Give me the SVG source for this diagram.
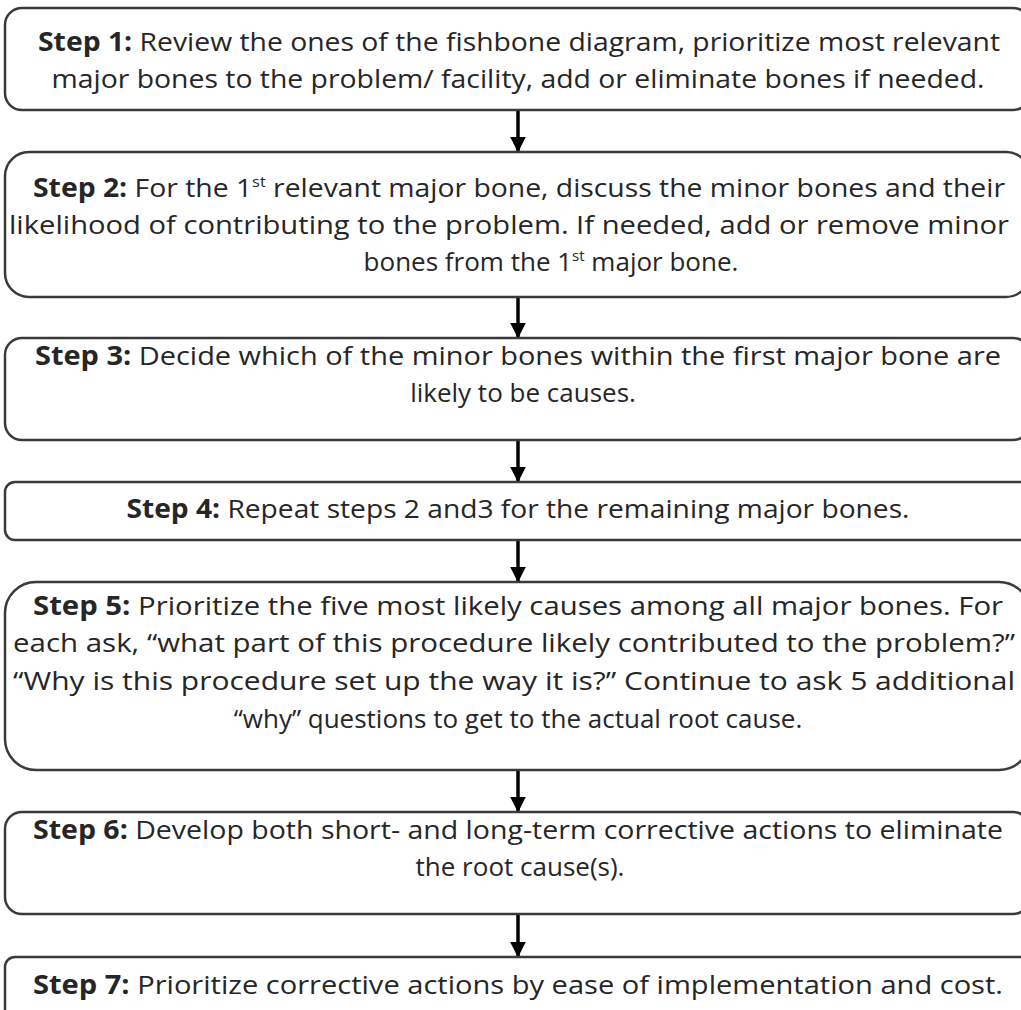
<svg xmlns="http://www.w3.org/2000/svg" width="1021" height="1010" viewBox="0 0 1021 1010">
<style>
.box{fill:#ffffff;stroke:#3a3a3a;stroke-width:2.5}
.t{font-family:"Open Sans","Noto Sans",sans-serif;font-size:26px;fill:#262626;text-anchor:middle}
.b{font-weight:bold}
.s{font-size:15px}
.arr{stroke:#000;stroke-width:3.5;fill:none}
</style>
<defs>
<marker id="ah" viewBox="0 0 10 10" refX="9" refY="5" markerWidth="4.5" markerHeight="4.5" orient="auto" markerUnits="strokeWidth">
<path d="M0,0 L10,5 L0,10 z" fill="#000"/>
</marker>
</defs>
<rect width="1021" height="1010" fill="#ffffff"/>
<g id="connectors">
<line class="arr" x1="518" y1="110" x2="518" y2="151" marker-end="url(#ah)"/>
<line class="arr" x1="518" y1="297" x2="518" y2="337" marker-end="url(#ah)"/>
<line class="arr" x1="518" y1="440" x2="518" y2="481" marker-end="url(#ah)"/>
<line class="arr" x1="518" y1="540" x2="518" y2="581" marker-end="url(#ah)"/>
<line class="arr" x1="518" y1="770" x2="518" y2="811" marker-end="url(#ah)"/>
<line class="arr" x1="518" y1="914" x2="518" y2="956" marker-end="url(#ah)"/>
</g>
<g id="step1">
<rect class="box" x="5" y="8" width="1025" height="102" rx="17"/>
<text class="t" x="519" y="51" textLength="962" lengthAdjust="spacingAndGlyphs"><tspan class="b">Step 1:</tspan> Review the ones of the fishbone diagram, prioritize most relevant</text>
<text class="t" x="518" y="88" textLength="933" lengthAdjust="spacingAndGlyphs">major bones to the problem/ facility, add or eliminate bones if needed.</text>
</g>
<g id="step2">
<rect class="box" x="5" y="152" width="1025" height="145" rx="24"/>
<text class="t" x="519" y="197" textLength="972" lengthAdjust="spacingAndGlyphs"><tspan class="b">Step 2:</tspan> For the 1<tspan class="s" baseline-shift="super">st</tspan> relevant major bone, discuss the minor bones and their</text>
<text class="t" x="509" y="234" textLength="1000" lengthAdjust="spacingAndGlyphs">likelihood of contributing to the problem. If needed, add or remove minor</text>
<text class="t" x="551" y="271">bones from the 1<tspan class="s" baseline-shift="super">st</tspan> major bone.</text>
</g>
<g id="step3">
<rect class="box" x="5" y="338" width="1025" height="102" rx="17"/>
<text class="t" x="518" y="365" textLength="966" lengthAdjust="spacingAndGlyphs"><tspan class="b">Step 3:</tspan> Decide which of the minor bones within the first major bone are</text>
<text class="t" x="523" y="402">likely to be causes.</text>
</g>
<g id="step4">
<rect class="box" x="5" y="482" width="1025" height="58" rx="10"/>
<text class="t" x="518" y="518" textLength="783" lengthAdjust="spacingAndGlyphs"><tspan class="b">Step 4:</tspan> Repeat steps 2 and3 for the remaining major bones.</text>
</g>
<g id="step5">
<rect class="box" x="5" y="582" width="1025" height="188" rx="31"/>
<text class="t" x="518" y="615" textLength="970" lengthAdjust="spacingAndGlyphs"><tspan class="b">Step 5:</tspan> Prioritize the five most likely causes among all major bones. For</text>
<text class="t" x="514" y="652" textLength="1002" lengthAdjust="spacingAndGlyphs">each ask, “what part of this procedure likely contributed to the problem?”</text>
<text class="t" x="514" y="690" textLength="1002" lengthAdjust="spacingAndGlyphs">“Why is this procedure set up the way it is?” Continue to ask 5 additional</text>
<text class="t" x="518" y="728">“why” questions to get to the actual root cause.</text>
</g>
<g id="step6">
<rect class="box" x="5" y="812" width="1025" height="102" rx="17"/>
<text class="t" x="518" y="839" textLength="970" lengthAdjust="spacingAndGlyphs"><tspan class="b">Step 6:</tspan> Develop both short- and long-term corrective actions to eliminate</text>
<text class="t" x="520" y="876">the root cause(s).</text>
</g>
<g id="step7">
<rect class="box" x="5" y="957" width="1025" height="62" rx="10"/>
<text class="t" x="518" y="994" textLength="970" lengthAdjust="spacingAndGlyphs"><tspan class="b">Step 7:</tspan> Prioritize corrective actions by ease of implementation and cost.</text>
</g>
</svg>
